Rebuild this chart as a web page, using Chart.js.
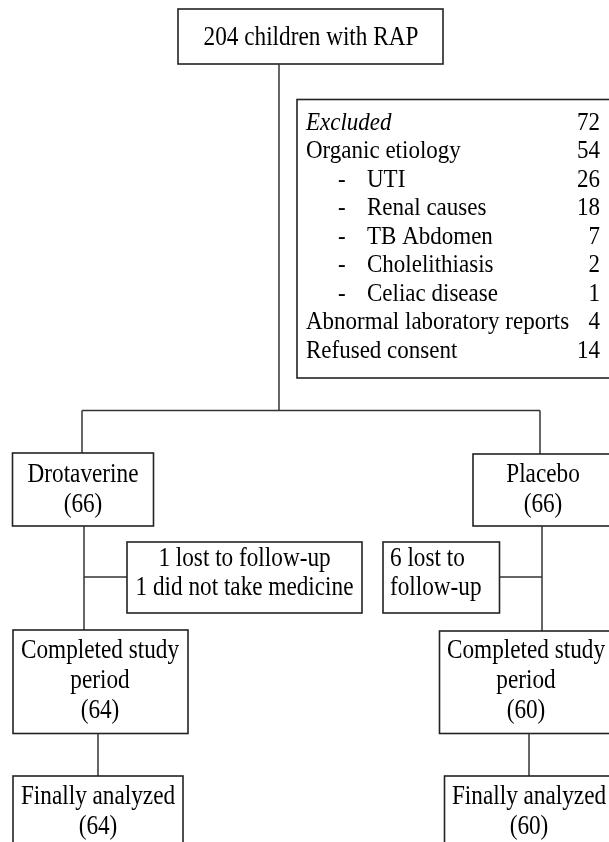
<!DOCTYPE html>
<html>
<head>
<meta charset="utf-8">
<title>Study flow chart</title>
<script src="https://cdn.jsdelivr.net/npm/chart.js@4.4.1/dist/chart.umd.min.js"></script>
<style>
  html, body { margin: 0; padding: 0; background: #fff; }
  #wrap { width: 609px; height: 842px; }
</style>
</head>
<body>
<div id="wrap"><canvas id="flow" width="609" height="842"></canvas></div>
<script>
// data
const enrolledLabel = '204 children with RAP';
const exclusionLabels = ['Excluded', 'Organic etiology', 'UTI', 'Renal causes', 'TB Abdomen',
    'Cholelithiasis', 'Celiac disease', 'Abnormal laboratory reports', 'Refused consent'];
const exclusionCounts = [72, 54, 26, 18, 7, 2, 1, 4, 14];
const exclusionSubItem = [false, false, true, true, true, true, true, false, false];
const arms = ['Drotaverine', 'Placebo'];
const randomized = [66, 66];
const lostNotes = [['1 lost to follow-up', '1 did not take medicine'], ['6 lost to', 'follow-up']];
const completed = [64, 60];
const analyzed = [64, 60];

// layout in chart units (x 0..609, y 0..842 downwards)
const layout = {
    top: { box: [178, 9, 443, 64], cx: 311, cy: 37.5 },
    excl: { box: [297, 99.5, 615, 378], labelX: 306, dashX: 338, subX: 367, numX: 600, y0: 123, step: 28.55 },
    trunkX: 279, splitY: 410.5,
    arm: [
        { topX: 82, box: [12.5, 453, 153.5, 526], cx: 83, ys: [474.5, 504.5], downX: 84,
          note: { box: [127, 542, 362, 613], x: 244.5, align: 'center', ys: [559, 588] }, noteY: 577,
          comp: { box: [13, 630, 188, 733.5], cx: 100, ys: [651, 681, 711] }, linkX: 98,
          fin: { box: [13, 776, 183, 900], cx: 98, ys: [797, 827] } },
        { topX: 540, box: [473, 454, 615, 526], cx: 543, ys: [474.5, 504.5], downX: 542,
          note: { box: [383, 542, 499.5, 613], x: 390, align: 'left', ys: [559, 588] }, noteY: 577,
          comp: { box: [439.5, 631, 615, 733.5], cx: 526, ys: [651, 681, 711] }, linkX: 529,
          fin: { box: [444.5, 776, 615, 900], cx: 529, ys: [797, 827] } }
    ]
};

const flowPlugin = {
    id: 'flow',
    afterDraw(chart) {
        const ctx = chart.ctx;
        const xs = chart.scales.x, ys = chart.scales.y;
        const X = v => xs.getPixelForValue(v);
        const Y = v => ys.getPixelForValue(v);

        function rect(b) {
            ctx.save();
            ctx.strokeStyle = '#222';
            ctx.lineWidth = 1.6;
            ctx.strokeRect(X(b[0]), Y(b[1]), X(b[2]) - X(b[0]), Y(b[3]) - Y(b[1]));
            ctx.restore();
        }
        function line(pts) {
            ctx.save();
            ctx.strokeStyle = '#333';
            ctx.lineWidth = 1.5;
            ctx.beginPath();
            pts.forEach((p, i) => i ? ctx.lineTo(X(p[0]), Y(p[1])) : ctx.moveTo(X(p[0]), Y(p[1])));
            ctx.stroke();
            ctx.restore();
        }
        function text(t, x, y, align, size, sx, italic) {
            ctx.save();
            ctx.font = (italic ? 'italic ' : '') + size + 'px "Liberation Serif", "DejaVu Serif", serif';
            ctx.fillStyle = '#000';
            ctx.textAlign = align;
            ctx.textBaseline = 'middle';
            ctx.translate(X(x), Y(y));
            ctx.scale(sx, 1);
            ctx.fillText(t, 0, 0);
            ctx.restore();
        }
        const fs = 27, fsx = 0.86;
        const efs = 25, efsx = 0.92;

        // enrolled
        rect(layout.top.box);
        text(enrolledLabel, layout.top.cx, layout.top.cy, 'center', fs, fsx);
        line([[layout.trunkX, layout.top.box[3]], [layout.trunkX, layout.splitY]]);
        line([[layout.arm[0].topX, layout.splitY], [layout.arm[1].topX, layout.splitY]]);

        // excluded list
        const e = layout.excl;
        rect(e.box);
        exclusionLabels.forEach((lab, i) => {
            const y = e.y0 + i * e.step;
            if (exclusionSubItem[i]) {
                text('-', e.dashX, y, 'left', efs, efsx);
                text(lab, e.subX, y, 'left', efs, efsx);
            } else {
                text(lab, e.labelX, y, 'left', efs, efsx, i === 0);
            }
            text(String(exclusionCounts[i]), e.numX, y, 'right', efs, efsx);
        });

        // the two arms
        layout.arm.forEach((a, k) => {
            line([[a.topX, layout.splitY], [a.topX, a.box[1]]]);
            rect(a.box);
            text(arms[k], a.cx, a.ys[0], 'center', fs, fsx);
            text('(' + randomized[k] + ')', a.cx, a.ys[1], 'center', fs, fsx);

            line([[a.downX, a.box[3]], [a.downX, a.comp.box[1]]]);
            const sideX = k === 0 ? a.note.box[0] : a.note.box[2];
            line([[a.downX, a.noteY], [sideX, a.noteY]]);
            rect(a.note.box);
            lostNotes[k].forEach((t, j) => text(t, a.note.x, a.note.ys[j], a.note.align, fs, fsx));

            rect(a.comp.box);
            ['Completed study', 'period', '(' + completed[k] + ')'].forEach((t, j) =>
                text(t, a.comp.cx, a.comp.ys[j], 'center', fs, fsx));

            line([[a.linkX, a.comp.box[3]], [a.linkX, a.fin.box[1]]]);
            rect(a.fin.box);
            ['Finally analyzed', '(' + analyzed[k] + ')'].forEach((t, j) =>
                text(t, a.fin.cx, a.fin.ys[j], 'center', fs, fsx));
        });
    }
};

new Chart(document.getElementById('flow').getContext('2d'), {
    type: 'scatter',
    data: { datasets: [{ data: [], pointRadius: 0 }] },
    options: {
        responsive: false,
        animation: false,
        devicePixelRatio: 1,
        layout: { padding: 0 },
        plugins: { legend: { display: false }, tooltip: { enabled: false } },
        scales: {
            x: { type: 'linear', min: 0, max: 609, display: false },
            y: { type: 'linear', min: 0, max: 842, reverse: true, display: false }
        }
    },
    plugins: [flowPlugin]
});
</script>
</body>
</html>
